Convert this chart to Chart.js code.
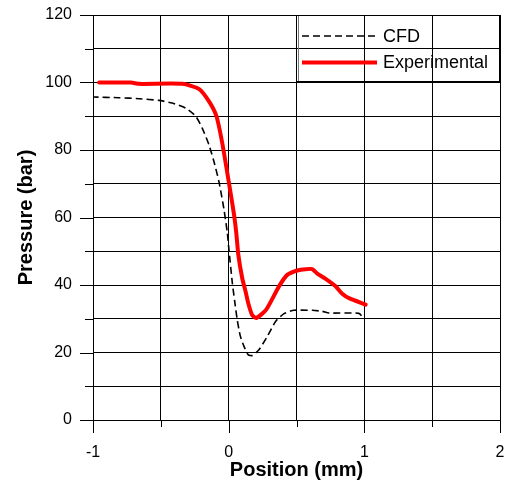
<!DOCTYPE html>
<html><head><meta charset="utf-8">
<script src="https://cdn.jsdelivr.net/npm/chart.js@4/dist/chart.umd.min.js"></script>
<style>html,body{margin:0;padding:0;background:#fff}#wrap{width:509px;height:484px}</style>
</head><body><div id="wrap"><canvas id="c" width="509" height="484"></canvas></div>
<script>
const cfdX = [-1.01,-0.81,-0.66,-0.514,-0.416,-0.317,-0.243,-0.195,-0.145,-0.108,-0.071,-0.035,-0.01,0.002,0.027,0.045,0.063,0.085,0.113,0.145,0.174,0.223,0.285,0.346,0.408,0.481,0.616,0.69,0.739,0.96,0.992];
const cfdY = [95.7,95.5,95.2,94.7,93.9,92.4,90,86.5,81.5,76.5,70.5,62.5,55.5,50.5,40.6,35,29.7,25,21.8,19.3,19.1,20.8,24.8,29.2,31.5,32.5,32.5,32.2,31.7,31.6,30.2];
const expX = [-0.955,-0.72,-0.66,-0.34,-0.22,-0.145,-0.09,-0.047,0.005,0.039,0.056,0.071,0.1,0.125,0.145,0.172,0.203,0.277,0.371,0.432,0.506,0.567,0.616,0.653,0.715,0.788,0.837,0.887,1.01];
const expY = [100,100,99.6,99.6,98.1,94.4,90,82,69.5,61,55.5,49,42,38,34.5,31.2,30.2,32.7,39.6,43.0,44.3,44.7,44.7,43.4,41.8,39.6,37.4,36.1,34.2];
const seriesNames = ['CFD','Experimental'];
const xTickLabels = {'-1':'-1','0':'0','1':'1','2':'2'};
const yTickLabels = [0,20,40,60,80,100,120];

const toPts = (xs, ys) => xs.map((x,i)=>({x:x,y:ys[i]}));
const FONT = "'Liberation Sans', Arial, sans-serif";

const tickPlugin = {
  id:'tickMarks',
  afterDraw(chart){
    const ctx = chart.ctx, xs = chart.scales.x, ys = chart.scales.y, a = chart.chartArea;
    ctx.save();
    ctx.strokeStyle = '#000'; ctx.lineWidth = 1;
    ys.ticks.forEach(t=>{
      const p = Math.round(ys.getPixelForValue(t.value))+0.5;
      const len = (t.value % 20 === 0) ? 13 : 8;
      ctx.beginPath(); ctx.moveTo(a.left-len, p); ctx.lineTo(a.left, p); ctx.stroke();
    });
    xs.ticks.forEach(t=>{
      const p = Math.round(xs.getPixelForValue(t.value))+0.5;
      const isMajor = Math.abs(t.value - Math.round(t.value)) < 1e-6;
      const len = isMajor ? 13 : 7;
      ctx.beginPath(); ctx.moveTo(p, a.bottom); ctx.lineTo(p, a.bottom+len); ctx.stroke();
    });
    ctx.restore();
  }
};

const legendPlugin = {
  id:'boxLegend',
  afterDraw(chart){
    const ctx = chart.ctx;
    ctx.save();
    ctx.strokeStyle = '#000'; ctx.lineWidth = 1;
    ctx.strokeRect(296.5, 15.5, 203, 66);
    ctx.strokeStyle = '#777';
    ctx.beginPath(); ctx.moveTo(298.5,16); ctx.lineTo(298.5,81); ctx.stroke();
    const rows = [36, 62.5];
    chart.data.datasets.forEach((ds,i)=>{
      const y = rows[i];
      ctx.save();
      ctx.strokeStyle = ds.borderColor; ctx.lineWidth = ds.borderWidth;
      ctx.setLineDash(ds.borderDash || []);
      ctx.beginPath(); ctx.moveTo(302, y); ctx.lineTo(377, y); ctx.stroke();
      ctx.restore();
      ctx.fillStyle = '#000';
      ctx.font = "18px " + FONT;
      ctx.textBaseline = 'middle'; ctx.textAlign = 'left';
      ctx.fillText(ds.label, 383, y+0.8);
    });
    ctx.restore();
  }
};

function zeroPad(s){ s.paddingTop = 0; s.paddingBottom = 0; s.paddingLeft = 0; s.paddingRight = 0; }

new Chart(document.getElementById('c'), {
  type:'scatter',
  data:{ datasets:[
    {label:seriesNames[0], data:toPts(cfdX,cfdY), showLine:true, borderColor:'#000', borderWidth:1.6, borderDash:[7,4], pointRadius:0, tension:0.2, fill:false},
    {label:seriesNames[1], data:toPts(expX,expY), showLine:true, borderColor:'#ff0000', borderWidth:4, pointRadius:0, tension:0.2, fill:false, borderCapStyle:'round', borderJoinStyle:'round'}
  ]},
  options:{
    responsive:false, animation:false, devicePixelRatio:1,
    layout:{padding:{top:15,right:9,left:0,bottom:0}},
    plugins:{legend:{display:false}, tooltip:{enabled:false}},
    scales:{
      x:{type:'linear', min:-1, max:2,
        afterFit(s){ s.height = 64; zeroPad(s); },
        ticks:{stepSize:0.5, autoSkip:false, maxRotation:0, padding:23, color:'#000', font:{family:FONT, size:16},
          callback:(v)=> xTickLabels[String(Math.round(v*1000)/1000)] ?? ''},
        grid:{color:'#000', lineWidth:1, drawTicks:false},
        border:{color:'#000', width:1},
        title:{display:true, text:'Position (mm)', color:'#000', font:{family:FONT, size:20, weight:'bold'}, padding:{top:0,bottom:2}}
      },
      y:{type:'linear', min:0, max:120,
        afterFit(s){ s.width = 93; zeroPad(s); },
        ticks:{stepSize:10, autoSkip:false, padding:21, color:'#000', font:{family:FONT, size:16},
          callback:(v)=> yTickLabels.includes(v) ? String(v) : ''},
        grid:{color:'#000', lineWidth:1, drawTicks:false},
        border:{color:'#000', width:1},
        title:{display:true, text:'Pressure (bar)', color:'#000', font:{family:FONT, size:20, weight:'bold'}, padding:{top:14,bottom:0}}
      }
    }
  },
  plugins:[tickPlugin, legendPlugin]
});
</script></body></html>
